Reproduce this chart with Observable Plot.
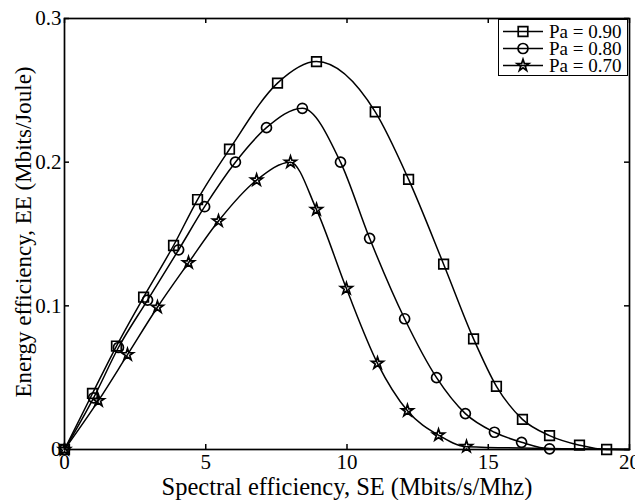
<!DOCTYPE html>
<html>
<head>
<meta charset="utf-8">
<script src="https://cdn.jsdelivr.net/npm/d3@7"></script>
<script src="https://cdn.jsdelivr.net/npm/@observablehq/plot@0.6"></script>
<style>
  html, body { margin: 0; padding: 0; background: #fff; }
  #wrap { position: relative; width: 635px; height: 500px; font-family: "Liberation Serif", "Times New Roman", serif; }
  #legend { position: absolute; left: 498px; top: 19px; width: 130px; height: 57px; border: 1.6px solid #000; background: #fff; box-sizing: border-box; font-family: "Liberation Serif", serif; }
  .row { display: flex; align-items: center; height: 17px; font-size: 19px; line-height: 17px; color: #000; }
  .row svg { display: block; }
</style>
</head>
<body>
<div id="wrap"></div>
<script>
// ---- data ----
const seriesNames = ["Pa = 0.90", "Pa = 0.80", "Pa = 0.70"];
const seriesSymbols = ["square", "circle", "star"];

const se90 = [0, 0.99, 1.84, 2.80, 3.86, 4.71, 5.84, 7.54, 8.92, 11.0, 12.18, 13.42, 14.48, 15.29, 16.21, 17.17, 18.23, 19.19];
const ee90 = [0, 0.039, 0.072, 0.106, 0.142, 0.174, 0.209, 0.255, 0.270, 0.235, 0.188, 0.129, 0.077, 0.044, 0.021, 0.0097, 0.003, 0.000];

const se80 = [0, 1.03, 1.91, 2.94, 4.04, 4.96, 6.05, 7.15, 8.42, 9.77, 10.8, 12.04, 13.17, 14.19, 15.22, 16.18, 17.17];
const ee80 = [0, 0.036, 0.071, 0.104, 0.139, 0.169, 0.200, 0.224, 0.2375, 0.200, 0.147, 0.091, 0.050, 0.025, 0.012, 0.005, 0.0005];

const se70 = [0, 1.2, 2.23, 3.29, 4.39, 5.45, 6.8, 8.0, 8.92, 9.98, 11.08, 12.14, 13.24, 14.23];
const ee70 = [0, 0.034, 0.066, 0.099, 0.130, 0.159, 0.1875, 0.200, 0.167, 0.112, 0.060, 0.027, 0.010, 0.002];

// lines continue along the axis to the end of the x range
const lineEndSE = 20;
const lineEndEE = 0;

const xTicks = [0, 5, 10, 15, 20];
const xTickLabels = ["0", "5", "10", "15", "20"];
const yTicks = [0, 0.1, 0.2, 0.3];
const yTickLabels = ["0", "0.1", "0.2", "0.3"];

const xLabel = "Spectral efficiency, SE (Mbits/s/Mhz)";
const yLabel = "Energy efficiency, EE (Mbits/Joule)";

// ---- build rows ----
const seArrays = [se90, se80, se70];
const eeArrays = [ee90, ee80, ee70];
const markerRows = seArrays.map((xs, k) => xs.map((x, i) => ({series: seriesNames[k], se: x, ee: eeArrays[k][i]})));
const lineRows = markerRows.flatMap((rows, k) => [...rows, {series: seriesNames[k], se: lineEndSE, ee: lineEndEE}]);

const W = 635, H = 500;
const mL = 64, mR = 6, mT = 18, mB = 51;
const innerH = H - mT - mB, innerW = W - mL - mR;
const tick = 5;
const font = "Liberation Serif";
const markerR = [5.4, 5.0, 3.7];

const chart = Plot.plot({
  width: W, height: H,
  marginLeft: mL, marginRight: mR, marginTop: mT, marginBottom: mB,
  style: {fontFamily: font, fontSize: "20px", color: "#000", background: "#fff", overflow: "visible"},
  x: {domain: [0, 20]},
  y: {domain: [0, 0.3]},
  marks: [
    Plot.line(lineRows, {x: "se", y: "ee", z: "series", curve: "monotone-x", stroke: "#000", strokeWidth: 1.5}),
    ...markerRows.map((rows, k) => Plot.dot(rows, {x: "se", y: "ee", symbol: () => seriesSymbols[k], r: markerR[k], stroke: "#000", strokeWidth: 1.7, fill: "none"})),
    // inward ticks on all four sides
    Plot.ruleX(xTicks, {insetTop: innerH - tick, stroke: "#000", strokeWidth: 1.5}),
    Plot.ruleX(xTicks, {insetBottom: innerH - tick, stroke: "#000", strokeWidth: 1.5}),
    Plot.ruleY(yTicks, {insetRight: innerW - tick, stroke: "#000", strokeWidth: 1.5}),
    Plot.ruleY(yTicks, {insetLeft: innerW - tick, stroke: "#000", strokeWidth: 1.5}),
    Plot.axisX({ticks: xTicks, tickSize: 0, tickPadding: 5, tickFormat: (d, i) => xTickLabels[i], fontSize: 21, label: null}),
    Plot.axisY({ticks: yTicks, tickSize: 0, tickPadding: 3, tickFormat: (d, i) => yTickLabels[i], fontSize: 21, label: null}),
    Plot.text([xLabel], {frameAnchor: "bottom", lineAnchor: "middle", textAnchor: "middle", dy: 38, dx: 0, fontSize: 24.5, fill: "#000"}),
    Plot.text([yLabel], {frameAnchor: "left", lineAnchor: "middle", textAnchor: "middle", rotate: -90, dx: -41, dy: -2, fontSize: 23, fill: "#000"}),
    Plot.frame({stroke: "#000", strokeWidth: 1.7})
  ]
});

const wrap = document.getElementById("wrap");
wrap.appendChild(chart);

// ---- legend ----
const legend = document.createElement("div");
legend.id = "legend";
legend.style.paddingTop = "3px";
seriesNames.forEach((name, k) => {
  const row = document.createElement("div");
  row.className = "row";
  const svg = d3.create("svg").attr("width", 48).attr("height", 17);
  svg.append("line").attr("x1", 4).attr("x2", 44).attr("y1", 8.5).attr("y2", 8.5).attr("stroke", "#000").attr("stroke-width", 1.6);
  const sym = {square: d3.symbolSquare, circle: d3.symbolCircle, star: d3.symbolStar}[seriesSymbols[k]];
  svg.append("path").attr("d", d3.symbol(sym, Math.PI * markerR[k] * markerR[k])()).attr("transform", "translate(24,8.5)")
    .attr("fill", "none").attr("stroke", "#000").attr("stroke-width", 1.7);
  row.appendChild(svg.node());
  const t = document.createElement("span");
  t.textContent = name;
  t.style.marginLeft = "2px";
  row.appendChild(t);
  legend.appendChild(row);
});
wrap.appendChild(legend);
</script>
</body>
</html>
